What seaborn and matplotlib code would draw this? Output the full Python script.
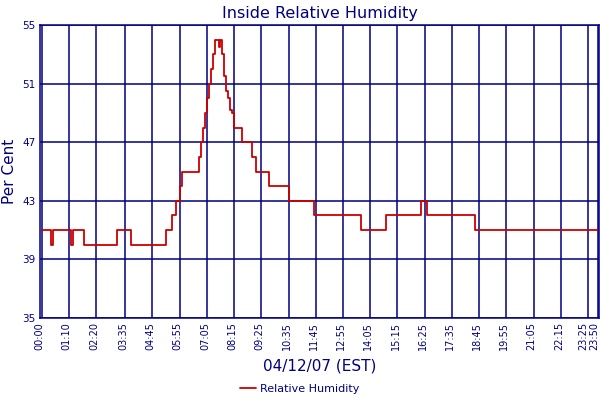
import matplotlib
matplotlib.use("Agg")
import matplotlib.pyplot as plt
import matplotlib.transforms as mtransforms
import seaborn as sns
import pandas as pd

# humidity readings (only the points where the value changes)
change_times = ["00:00", "00:25", "00:30", "01:15", "01:20", "01:50", "03:15", "03:50",
                "05:20", "05:35", "05:45", "05:55", "06:00", "06:45", "06:50", "06:55",
                "07:00", "07:05", "07:10", "07:15", "07:20", "07:25", "07:35", "07:40",
                "07:45", "07:50", "07:55", "08:00", "08:05", "08:10", "08:15", "08:35",
                "09:00", "09:10", "09:45", "10:35", "11:40", "13:40", "14:45", "16:15",
                "16:30", "18:35", "23:50"]
humidity = [41, 40, 41, 40, 41, 40, 41, 40,
            41, 42, 43, 44, 45, 46, 47, 48,
            49, 50, 51, 52, 53, 54, 53.5, 54,
            53, 51.5, 50.5, 50, 49.2, 49, 48, 47,
            46, 45, 44, 43, 42, 41, 42, 43,
            42, 41, 41]

tick_labels = ["00:00", "01:10", "02:20", "03:35", "04:45", "05:55", "07:05", "08:15",
               "09:25", "10:35", "11:45", "12:55", "14:05", "15:15", "16:25", "17:35",
               "18:45", "19:55", "21:05", "22:15", "23:25", "23:50"]
y_ticks = [35, 39, 43, 47, 51, 55]


def to_minutes(s):
    h, m = s.split(":")
    return int(h) * 60 + int(m)


df = pd.DataFrame({"minute": [to_minutes(t) for t in change_times],
                   "humidity": humidity})

navy = "#000080"

sns.set_theme(style="white")
plt.rcParams['font.family'] = ['DejaVu Sans']

fig = plt.figure(figsize=(6, 4), dpi=100)
ax = fig.add_axes([40 / 600, 1 - 318 / 400, 559 / 600, 293 / 400])

sns.lineplot(data=df, x="minute", y="humidity", ax=ax, color="#cc0000",
             linewidth=1.3, drawstyle="steps-post", label="Relative Humidity")

ax.set_xlim(-4, 1433)
ax.set_ylim(35, 55)
ax.set_xticks([to_minutes(t) for t in tick_labels])
ax.set_xticklabels(tick_labels, rotation=90, fontsize=7, color=navy)
ax.set_yticks(y_ticks)
ax.set_yticklabels([str(v) for v in y_ticks], fontsize=7.5, color=navy)
ax.tick_params(length=0, pad=3)


def px_shift(dx):
    return mtransforms.ScaledTranslation(dx / 100, 0, fig.dpi_scale_trans)


# labels sit a little left of their grid lines; the last two are squeezed together
xlabels = ax.get_xticklabels()
for lab in xlabels[:-2]:
    lab.set_transform(lab.get_transform() + px_shift(-2))
xlabels[-2].set_ha("right")
xlabels[-2].set_transform(xlabels[-2].get_transform() + px_shift(0.4))
xlabels[-1].set_ha("right")
xlabels[-1].set_transform(xlabels[-1].get_transform() + px_shift(1.4))

ax.grid(True, color=navy, linewidth=1.1)
ax.set_axisbelow(True)
for sp in ax.spines.values():
    sp.set_color(navy)
    sp.set_linewidth(1.1)

ax.set_xlabel("04/12/07 (EST)", fontsize=11, color=navy, labelpad=6)
ax.set_ylabel("Per Cent", fontsize=11, color=navy, labelpad=4)
ax.set_title("Inside Relative Humidity", fontsize=11.5, color=navy, pad=5)

ax.get_legend().remove()
fig.legend(loc="lower center", bbox_to_anchor=(0.5, -0.01), frameon=False,
           fontsize=8, labelcolor=navy, handlelength=1.4, handletextpad=0.4)

fig.savefig("out.png", dpi=100)
